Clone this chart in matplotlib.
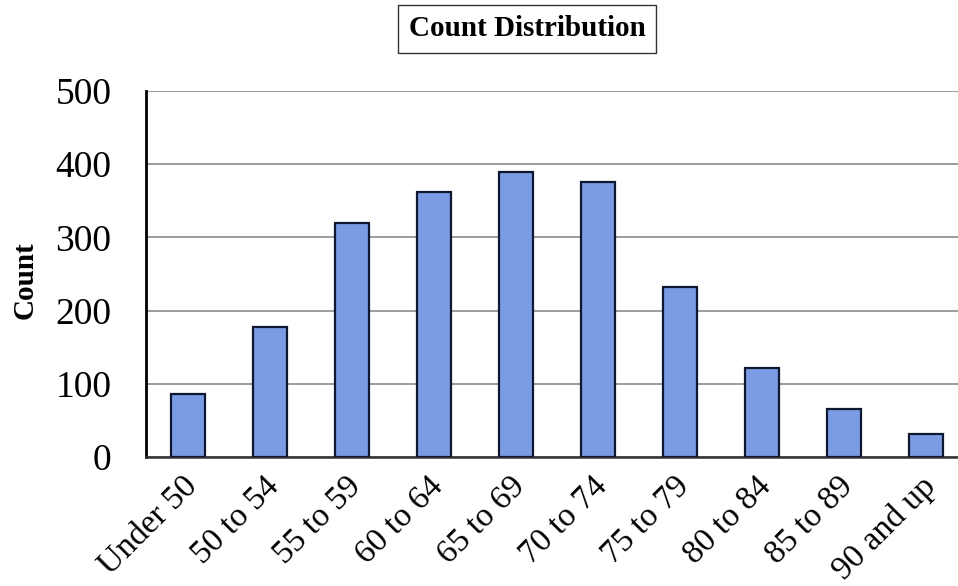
import matplotlib.pyplot as plt
import matplotlib.transforms as mtransforms
import numpy as np

# values
categories = ['Under 50', '50 to 54', '55 to 59', '60 to 64', '65 to 69',
              '70 to 74', '75 to 79', '80 to 84', '85 to 89', '90 and up']
counts = [86, 177, 319, 362, 390, 376, 232, 122, 66, 31]
yticks = [0, 100, 200, 300, 400, 500]

W, H = 958, 586
fig = plt.figure(figsize=(W / 100, H / 100), dpi=100)
ax = fig.add_axes([146 / W, 1 - 457 / H, (W - 146) / W, (457 - 91) / H])

x = np.arange(len(categories))
ax.bar(x, counts, width=0.42, color='#7b9be3', edgecolor='#101830', linewidth=1.6, zorder=3)

ax.set_xlim(-0.51, 9.39)
ax.set_ylim(0, 500)
ax.set_yticks(yticks)
ax.yaxis.grid(True, color='#8a8a8a', linewidth=1.2, zorder=0)
ax.set_axisbelow(True)

for s in ['top', 'right']:
    ax.spines[s].set_visible(False)
ax.spines['left'].set_linewidth(2)
ax.spines['bottom'].set_linewidth(1.8)
ax.spines['bottom'].set_color('#333333')

ax.tick_params(axis='both', length=0)
ax.tick_params(axis='y', pad=25)
ax.set_yticklabels([str(v) for v in yticks], family='Liberation Serif', fontsize=27)
ax.set_xticks(x)
ax.set_xticklabels(categories, family='Liberation Serif', fontsize=24,
                   rotation=45, ha='right', va='top', rotation_mode='anchor')
ax.tick_params(axis='x', pad=10)
shift = mtransforms.ScaledTranslation(-6 / 100, 0, fig.dpi_scale_trans)
for lbl in ax.get_xticklabels():
    lbl.set_transform(lbl.get_transform() + shift)

fig.text(25 / W, 1 - 280 / H, 'Count', family='Liberation Serif', fontweight='bold',
         fontsize=21, rotation=90, ha='center', va='center')

fig.text(527 / W, 1 - 29 / H, 'Count Distribution', family='Liberation Serif',
         fontweight='bold', fontsize=21, ha='center', va='center',
         bbox=dict(boxstyle='square,pad=0.35', facecolor='white', edgecolor='#333333', linewidth=1))

fig.savefig('out.png', dpi=100)
